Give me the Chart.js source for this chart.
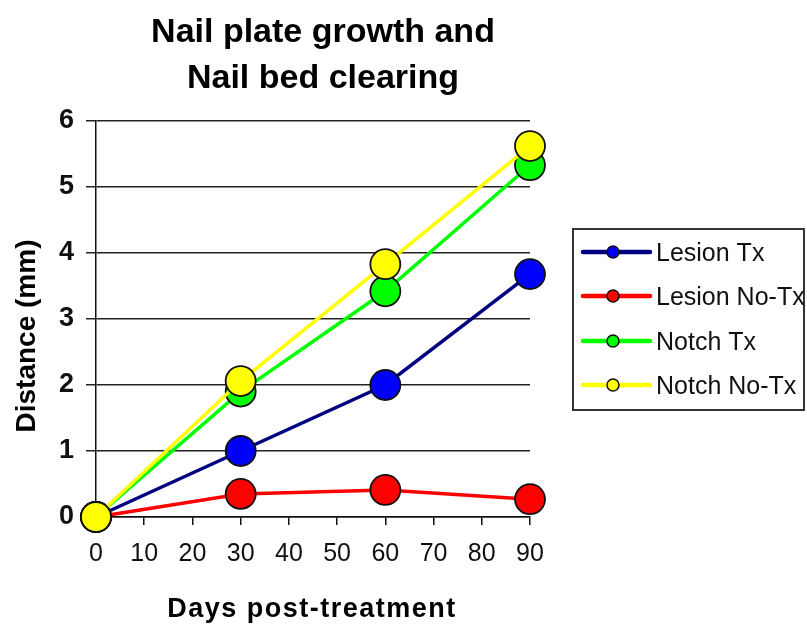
<!DOCTYPE html>
<html>
<head>
<meta charset="utf-8">
<script src="https://cdn.jsdelivr.net/npm/chart.js@4/dist/chart.umd.min.js"></script>
<style>
  html, body { margin: 0; padding: 0; background: #fff; }
  #wrap { position: relative; width: 807px; height: 624px; }
</style>
</head>
<body>
<div id="wrap"><canvas id="c" width="807" height="624"></canvas></div>
<script>
// Days after treatment at which distance was measured
const days = [0, 30, 60, 90];

// Distance (mm) per group
const lesionTx   = [0, 1.00, 2.00, 3.68];
const lesionNoTx = [0, 0.35, 0.41, 0.27];
const notchTx    = [0, 1.90, 3.42, 5.33];
const notchNoTx  = [0, 2.06, 3.83, 5.62];

const seriesNames = ['Lesion Tx', 'Lesion No-Tx', 'Notch Tx', 'Notch No-Tx'];
const titleLines = ['Nail plate growth and', 'Nail bed clearing'];
const xTitle = 'Days post-treatment';
const yTitle = 'Distance (mm)';

const toPoints = vals => days.map((d, i) => ({ x: d, y: vals[i] }));

function series(label, vals, line, fill, order) {
  return {
    label,
    data: toPoints(vals),
    borderColor: line,
    backgroundColor: fill,
    borderWidth: 3.5,
    pointRadius: 15,
    pointHoverRadius: 15,
    pointBackgroundColor: fill,
    pointBorderColor: '#111',
    pointBorderWidth: 1.8,
    tension: 0,
    clip: false,
    order
  };
}

const datasets = [
  series(seriesNames[0], lesionTx,   '#000080', '#0000ff', 3),
  series(seriesNames[1], lesionNoTx, '#ff0000', '#ff0000', 2),
  series(seriesNames[2], notchTx,    '#00ff00', '#00ff00', 1),
  series(seriesNames[3], notchNoTx,  '#ffff00', '#ffff00', 0)
];

// Title, axis titles and the boxed legend
const decorations = {
  id: 'decorations',
  afterDraw(chart) {
    const ctx = chart.ctx;
    ctx.save();
    ctx.fillStyle = '#000';
    ctx.textBaseline = 'alphabetic';

    // chart title
    ctx.font = 'bold 34px "Liberation Sans", Arial, sans-serif';
    ctx.textAlign = 'center';
    ctx.fillText(titleLines[0], 323, 42);
    ctx.fillText(titleLines[1], 323, 88);

    // x axis title
    ctx.font = 'bold 27px "Liberation Sans", Arial, sans-serif';
    ctx.letterSpacing = '1.5px';
    ctx.fillText(xTitle, 312, 617);
    ctx.letterSpacing = '0px';

    // y axis title
    ctx.save();
    ctx.translate(35, 336);
    ctx.rotate(-Math.PI / 2);
    ctx.font = 'bold 28px "Liberation Sans", Arial, sans-serif';
    ctx.fillText(yTitle, 0, 0);
    ctx.restore();

    // legend box
    ctx.strokeStyle = '#333';
    ctx.lineWidth = 2;
    ctx.strokeRect(573, 229, 231, 181);

    const rows = [252, 296, 341, 385];
    ctx.textAlign = 'left';
    ctx.font = '25px "Liberation Sans", Arial, sans-serif';
    chart.data.datasets.forEach((ds, i) => {
      const y = rows[i];
      ctx.strokeStyle = ds.borderColor;
      ctx.lineWidth = 4.5;
      ctx.lineCap = 'round';
      ctx.beginPath();
      ctx.moveTo(583, y);
      ctx.lineTo(650, y);
      ctx.stroke();
      ctx.beginPath();
      ctx.arc(613, y, 6, 0, Math.PI * 2);
      ctx.fillStyle = ds.pointBackgroundColor;
      ctx.fill();
      ctx.lineWidth = 1.5;
      ctx.strokeStyle = '#111';
      ctx.stroke();
      ctx.fillStyle = '#111';
      ctx.fillText(ds.label, 656, y + 9);
    });
    ctx.restore();
  }
};

new Chart(document.getElementById('c'), {
  type: 'line',
  data: { datasets },
  options: {
    responsive: false,
    animation: false,
    events: [],
    layout: { padding: { left: 0, top: 121, right: 277, bottom: 0 } },
    plugins: { legend: { display: false }, title: { display: false }, tooltip: { enabled: false } },
    scales: {
      x: {
        type: 'linear',
        min: 0, max: 90,
        afterFit(scale) { scale.height = 107; },
        ticks: {
          stepSize: 10,
          color: '#111',
          padding: 14,
          font: { family: '"Liberation Sans", Arial, sans-serif', size: 25 },
          maxRotation: 0
        },
        grid: { drawOnChartArea: false, drawTicks: true, tickLength: 8, color: '#111', lineWidth: 1.5 },
        border: { display: true, color: '#111', width: 1.5 }
      },
      y: {
        min: 0, max: 6,
        afterFit(scale) { scale.width = 96; },
        ticks: {
          stepSize: 1,
          color: '#111',
          padding: 12,
          font: { family: '"Liberation Sans", Arial, sans-serif', size: 27, weight: 'bold' }
        },
        grid: { drawOnChartArea: true, drawTicks: true, tickLength: 10, color: '#222', lineWidth: 1.5 },
        border: { display: true, color: '#111', width: 1.5 }
      }
    }
  },
  plugins: [decorations]
});
</script>
</body>
</html>
